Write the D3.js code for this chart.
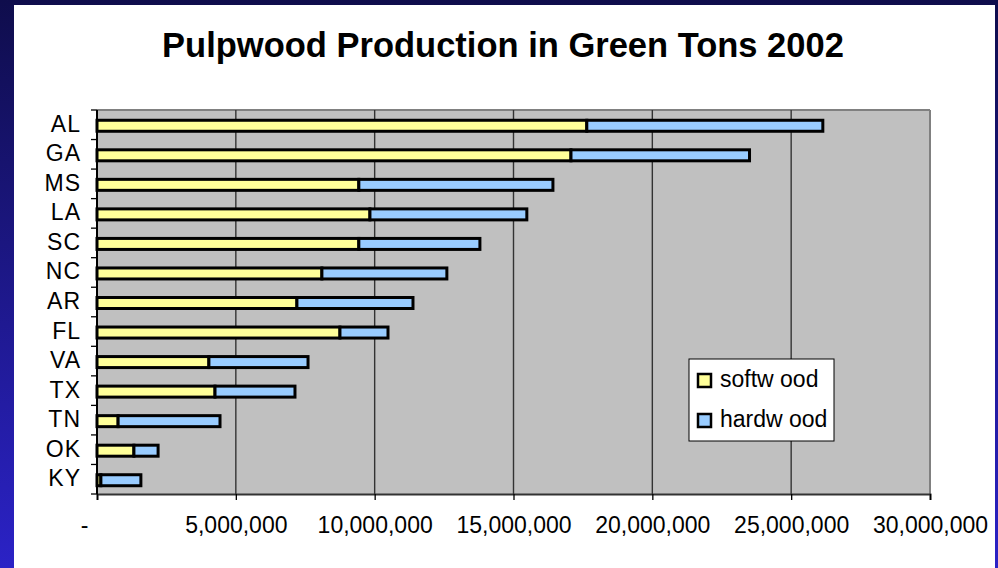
<!DOCTYPE html>
<html>
<head>
<meta charset="utf-8">
<script src="https://cdn.jsdelivr.net/npm/d3@7"></script>
<style>
  body { margin: 0; padding: 0; }
  text { font-family: "Liberation Sans", Arial, sans-serif; }
</style>
</head>
<body>
<div class="vis-pulpwood"></div>
<script>
// data (green tons)
const states = ["AL", "GA", "MS", "LA", "SC", "NC", "AR", "FL", "VA", "TX", "TN", "OK", "KY"];
const softwood = [17640000, 17070000, 9430000, 9830000, 9430000, 8100000, 7200000, 8750000, 4030000, 4250000, 760000, 1330000, 140000];
const hardwood = [8500000, 6430000, 6990000, 5650000, 4360000, 4500000, 4180000, 1730000, 3570000, 2880000, 3670000, 870000, 1440000];
const seriesNames = ["softw ood", "hardw ood"];
const seriesColors = ["#ffff99", "#99ccff"];
const xTicks = [0, 5000000, 10000000, 15000000, 20000000, 25000000, 30000000];

const W = 998, H = 568;
const margin = { top: 110, right: 68, bottom: 74, left: 97 };
const width = W - margin.left - margin.right;
const height = H - margin.top - margin.bottom;

const root = d3.select(".vis-pulpwood")
    .append("svg")
    .attr("width", W)
    .attr("height", H);

// slide frame: gradient behind a white page
const grad = root.append("defs").append("linearGradient")
    .attr("id", "frame").attr("x1", 0).attr("y1", 0).attr("x2", 0).attr("y2", 1);
grad.append("stop").attr("offset", "0%").attr("stop-color", "#0f0d4c");
grad.append("stop").attr("offset", "100%").attr("stop-color", "#2b22c6");
root.append("rect").attr("width", W).attr("height", H).attr("fill", "url(#frame)");
root.append("rect").attr("x", 14).attr("y", 5).attr("width", 981).attr("height", H - 5).attr("fill", "white");

// title
root.append("text")
    .attr("x", 503)
    .attr("y", 57)
    .attr("text-anchor", "middle")
    .attr("font-size", "34.5px")
    .attr("font-weight", "bold")
    .attr("fill", "#000")
    .text("Pulpwood Production in Green Tons 2002");

const svg = root.append("g")
    .attr("transform", "translate(" + margin.left + "," + margin.top + ")");

// scales
const x = d3.scaleLinear().domain([0, 30000000]).range([0, width]);
const y = d3.scaleBand().domain(states).range([0, height]);

// plot area
svg.append("rect")
    .attr("width", width)
    .attr("height", height)
    .attr("fill", "#c0c0c0");
svg.append("line")
    .attr("x1", 0).attr("x2", width).attr("y1", 0).attr("y2", 0)
    .attr("stroke", "#808080").attr("stroke-width", 2);
svg.append("line")
    .attr("x1", width).attr("x2", width).attr("y1", 0).attr("y2", height)
    .attr("stroke", "#808080").attr("stroke-width", 2);

// gridlines
svg.selectAll(".grid")
    .data(xTicks.slice(1, -1))
    .enter()
    .append("line")
    .attr("class", "grid")
    .attr("x1", d => x(d)).attr("x2", d => x(d))
    .attr("y1", 0).attr("y2", height)
    .attr("stroke", "#333").attr("stroke-width", 1.4);

// stacked bars
const rows = states.map((s, i) => ({ state: s, values: [softwood[i], hardwood[i]] }));
const barH = 11;
rows.forEach(function (r) {
    let start = 0;
    r.values.forEach(function (v, k) {
        svg.append("rect")
            .attr("x", x(start))
            .attr("y", y(r.state) + y.bandwidth() / 2 + 1 - barH / 2)
            .attr("width", x(start + v) - x(start))
            .attr("height", barH)
            .attr("fill", seriesColors[k])
            .attr("stroke", "#000")
            .attr("stroke-width", 3);
        start += v;
    });
});

// x axis
const xAxis = svg.append("g")
    .attr("class", "x_axis")
    .attr("transform", "translate(0," + height + ")")
    .call(d3.axisBottom(x).tickValues(xTicks).tickSize(6).tickPadding(17)
        .tickFormat(d => d === 0 ? "-" : d3.format(",")(d)));
xAxis.select(".domain").attr("stroke", "#333").attr("stroke-width", 2);
xAxis.selectAll("line").attr("stroke", "#000").attr("stroke-width", 1.3);
xAxis.selectAll("text")
    .attr("font-size", "23px")
    .attr("font-family", "Liberation Sans, Arial, sans-serif")
    .attr("fill", "#000")
    .attr("dx", d => d === 0 ? -13 : 0);

// y axis: ticks on band edges
const yAxisG = svg.append("g").attr("class", "y_axis");
yAxisG.append("line")
    .attr("x1", 0).attr("x2", 0).attr("y1", 0).attr("y2", height)
    .attr("stroke", "#000").attr("stroke-width", 2);
yAxisG.selectAll(".ytick")
    .data(d3.range(states.length + 1))
    .enter()
    .append("line")
    .attr("x1", -6).attr("x2", 0)
    .attr("y1", i => i * y.step()).attr("y2", i => i * y.step())
    .attr("stroke", "#000").attr("stroke-width", 1.3);
yAxisG.selectAll(".ylabel")
    .data(states)
    .enter()
    .append("text")
    .attr("x", -16)
    .attr("y", d => y(d) + y.bandwidth() / 2 + 7)
    .attr("text-anchor", "end")
    .attr("font-size", "23px")
    .attr("letter-spacing", "1px")
    .attr("fill", "#000")
    .text(d => d);

// legend
const legend = root.append("g").attr("transform", "translate(689,359)");
legend.append("rect")
    .attr("width", 145).attr("height", 82)
    .attr("fill", "white").attr("stroke", "#000").attr("stroke-width", 1);
seriesNames.forEach(function (name, k) {
    legend.append("rect")
        .attr("x", 9).attr("y", 15 + k * 40)
        .attr("width", 13).attr("height", 13)
        .attr("fill", seriesColors[k])
        .attr("stroke", "#000").attr("stroke-width", 2.5);
    legend.append("text")
        .attr("x", 31).attr("y", 28 + k * 40)
        .attr("font-size", "23px")
        .attr("fill", "#000")
        .text(name);
});
</script>
</body>
</html>
